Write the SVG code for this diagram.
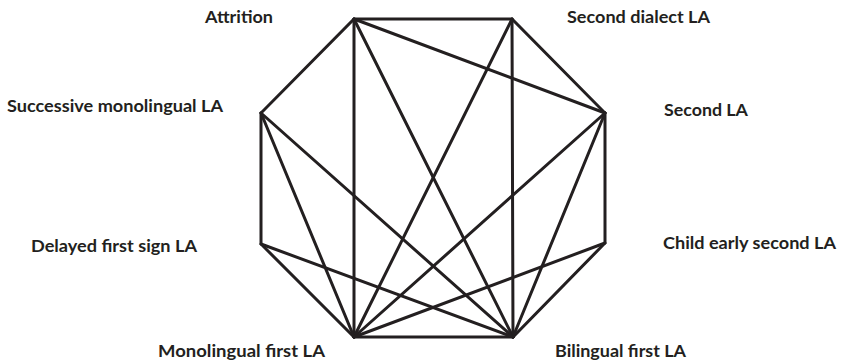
<svg xmlns="http://www.w3.org/2000/svg" width="841" height="362" viewBox="0 0 841 362">
<style>
.e{stroke:#231f20;stroke-width:3;stroke-linecap:round;fill:none}
.t{font-family:Lato,"Open Sans","Liberation Sans",sans-serif;font-weight:bold;font-size:17.5px;fill:#231f20}
</style>
<rect width="841" height="362" fill="#fff"/>
<g id="connectors">
<polygon class="e" stroke-linejoin="miter" points="354,19 512,19 605,113 605,243 513,337 354,337 261,244 261,113"/>
<line class="e" x1="354" y1="19" x2="605" y2="113"/>
<line class="e" x1="354" y1="19" x2="513" y2="337"/>
<line class="e" x1="354" y1="19" x2="354" y2="337"/>
<line class="e" x1="512" y1="19" x2="354" y2="337"/>
<line class="e" x1="512" y1="19" x2="513" y2="337"/>
<line class="e" x1="261" y1="113" x2="354" y2="337"/>
<line class="e" x1="261" y1="113" x2="513" y2="337"/>
<line class="e" x1="605" y1="113" x2="354" y2="337"/>
<line class="e" x1="605" y1="113" x2="513" y2="337"/>
<line class="e" x1="261" y1="244" x2="513" y2="337"/>
<line class="e" x1="605" y1="243" x2="354" y2="337"/>
</g>
<g id="attrition"><text class="t" x="205" y="23" textLength="68" lengthAdjust="spacingAndGlyphs">Attrition</text></g>
<g id="second-dialect-la"><text class="t" x="567" y="23" textLength="143" lengthAdjust="spacingAndGlyphs">Second dialect LA</text></g>
<g id="second-la"><text class="t" x="664" y="116" textLength="84" lengthAdjust="spacingAndGlyphs">Second LA</text></g>
<g id="child-early-second-la"><text class="t" x="663" y="249" textLength="173" lengthAdjust="spacingAndGlyphs">Child early second LA</text></g>
<g id="bilingual-first-la"><text class="t" x="555" y="357" textLength="131" lengthAdjust="spacingAndGlyphs">Bilingual first LA</text></g>
<g id="monolingual-first-la"><text class="t" x="158" y="357" textLength="167" lengthAdjust="spacingAndGlyphs">Monolingual first LA</text></g>
<g id="delayed-first-sign-la"><text class="t" x="31" y="252" textLength="166" lengthAdjust="spacingAndGlyphs">Delayed first sign LA</text></g>
<g id="successive-monolingual-la"><text class="t" x="7" y="112" textLength="216" lengthAdjust="spacingAndGlyphs">Successive monolingual LA</text></g>
</svg>
